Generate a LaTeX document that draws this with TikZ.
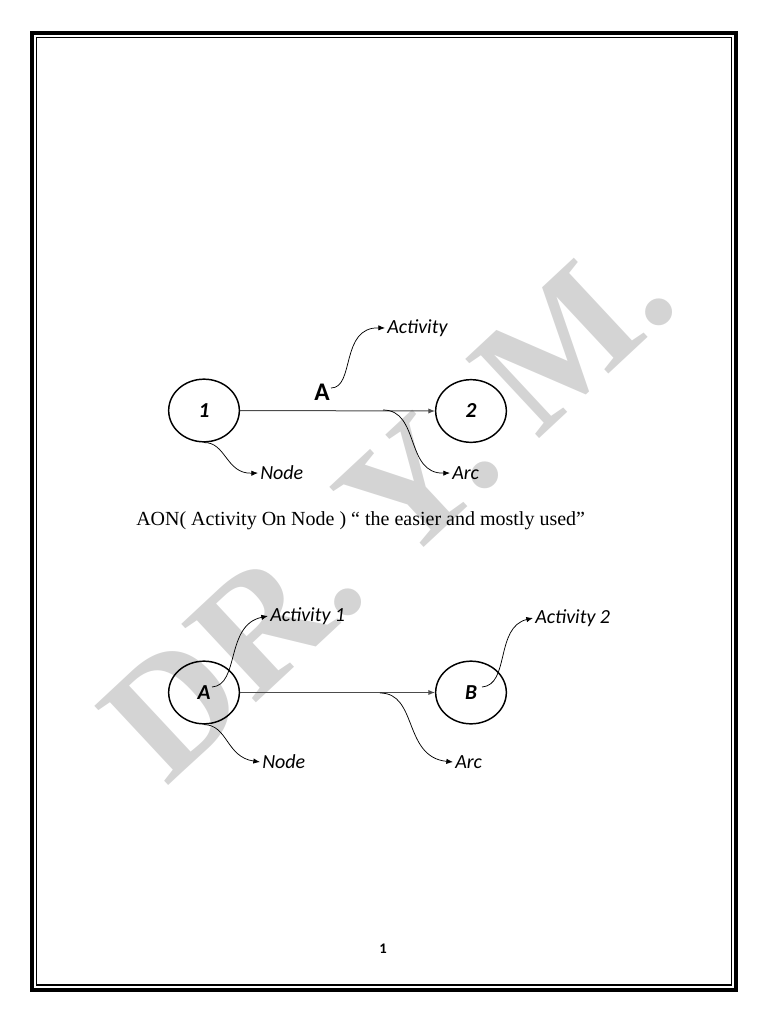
\documentclass[tikz,border=0pt]{standalone}
\usepackage{fontspec}
\setmainfont{Carlito}
\newfontfamily\tnr{Liberation Serif}
\usetikzlibrary{shapes.geometric,arrows.meta}
\begin{document}
\begin{tikzpicture}[x=0.75pt,y=-0.75pt,
  circ/.style={ellipse,draw=black,line width=1.1pt,minimum width=53pt,minimum height=47pt,inner sep=0pt,font=\fontsize{16}{18}\selectfont\bfseries\itshape},
  lbl/.style={anchor=west,inner sep=1.5pt,font=\fontsize{15}{18}\selectfont\itshape},
  conn/.style={draw=black,line width=0.55pt,-{Latex[length=5pt,width=4pt]}},
  arcline/.style={draw=black!70,line width=0.75pt,-{Latex[length=5pt,width=4pt]}}]
\useasboundingbox (0,0) rectangle (768,1024);
% page border
\draw[line width=3pt] (32,33) rectangle (736,989.5);
\draw[line width=1pt] (36.5,37.5) rectangle (731.5,985);
% watermark
\node[rotate=43,text=black!17,font=\tnr\bfseries\fontsize{124}{124}\selectfont] (wm) at (388,508) {DR. Y. M.};
% ---------- top diagram (AOA) ----------
\node[circ] (n1) at (204,410.5) {1};
\node[circ] (n2) at (471,411) {2};
\draw[arcline] (n1.east) -- (n2.west);
\node[font=\fontsize{19}{21}\selectfont\bfseries] (alab) at (322,392) {A};
\node[lbl] (tact) at (385,328) {Activity};
\node[lbl] (tnode) at (258,473) {Node};
\node[lbl] (tarc) at (450,473) {Arc};
\coordinate (ta) at (331,388);
\coordinate (tl) at (383,410);
\draw[conn] (ta) .. controls (355,388) and (340,327) .. (tact.west);
\draw[conn] (n1.south) .. controls (226,442) and (226,474) .. (tnode.west);
\draw[conn] (tl) .. controls (420,410) and (405,474) .. (tarc.west);
% caption
\node[anchor=west,inner sep=0pt,font=\tnr\fontsize{15}{18}\selectfont] (aon) at (136,521) {AON( Activity On Node ) “ the easier and mostly used”};
% ---------- bottom diagram (AON) ----------
\node[circ] (na) at (204,692.5) {A};
\node[circ] (nb) at (471,692.5) {B};
\draw[arcline] (na.east) -- (nb.west);
\node[lbl] (bact1) at (268,616) {Activity 1};
\node[lbl] (bact2) at (533,618) {Activity 2};
\node[lbl] (bnode) at (260,762) {Node};
\node[lbl] (barc) at (453,762) {Arc};
\coordinate (ba) at (212,687);
\coordinate (bb) at (482,687);
\coordinate (bl) at (380,693);
\draw[conn] (ba) .. controls (240,685) and (225,625) .. (bact1.west);
\draw[conn] (bb) .. controls (510,685) and (495,627) .. (bact2.west);
\draw[conn] (na.south) .. controls (228,725) and (226,757) .. (bnode.west);
\draw[conn] (bl) .. controls (418,693) and (403,757) .. (barc.west);
% page number
\node[font=\fontsize{11}{13}\selectfont\bfseries] (pg) at (383,949) {1};
\end{tikzpicture}
\end{document}
